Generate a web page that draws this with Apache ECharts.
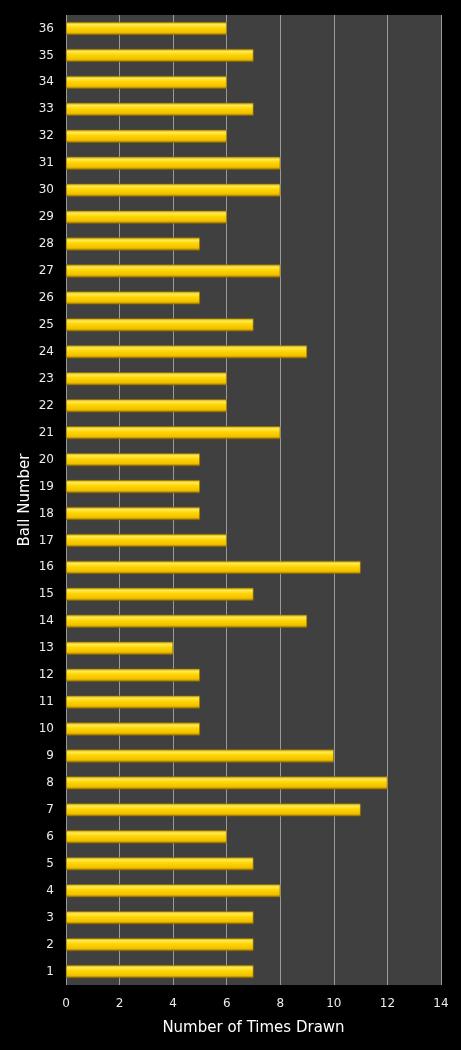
<!DOCTYPE html>
<html>
<head>
    <meta charset="utf-8">
    <title>ECharts</title>
    <script src="https://cdn.jsdelivr.net/npm/echarts@6/dist/echarts.min.js"></script>
    <style>
        html, body { margin: 0; padding: 0; background: #000; }
    </style>
</head>
<body>
<div id="main" style="width: 461px;height:1050px;"></div>
<script type="text/javascript">
    // ball numbers, bottom to top
    var balls = ['1','2','3','4','5','6','7','8','9','10','11','12','13','14','15','16','17','18',
                 '19','20','21','22','23','24','25','26','27','28','29','30','31','32','33','34','35','36'];
    // times drawn per ball
    var timesDrawn = [7,7,7,8,7,6,11,12,10,5,5,5,4,9,7,11,6,5,
                      5,5,8,6,6,9,7,5,8,5,6,8,8,6,7,6,7,6];
    var xTicks = { min: 0, max: 14, interval: 2 };

    var myChart = echarts.init(document.getElementById('main'));

    var barColor = new echarts.graphic.LinearGradient(0, 0, 0, 1, [
        { offset: 0, color: '#c79e00' },
        { offset: 0.2, color: '#ffea55' },
        { offset: 0.45, color: '#ffd500' },
        { offset: 0.8, color: '#f0c000' },
        { offset: 1, color: '#946c00' }
    ]);

    var option = {
        backgroundColor: '#000',
        textStyle: { fontFamily: 'DejaVu Sans' },
        grid: {
            left: 66, right: 20, top: 15, bottom: 65,
            show: true, backgroundColor: '#404040', borderWidth: 0
        },
        xAxis: {
            type: 'value',
            min: xTicks.min, max: xTicks.max, interval: xTicks.interval,
            name: 'Number of Times Drawn',
            nameLocation: 'middle',
            nameGap: 36,
            nameMoveOverlap: false,
            nameTextStyle: { color: '#fff', fontSize: 15 },
            axisLine: { show: false },
            axisTick: { show: false },
            axisLabel: { color: '#ececec', fontSize: 12, margin: 13 },
            splitLine: { show: true, showMinLine: true, showMaxLine: true, lineStyle: { color: '#9a9a9a', width: 1 } }
        },
        yAxis: {
            type: 'category',
            data: balls,
            name: 'Ball Number',
            nameLocation: 'middle',
            nameGap: 33,
            nameMoveOverlap: false,
            nameTextStyle: { color: '#fff', fontSize: 15 },
            axisLine: { show: false },
            axisTick: { show: false },
            axisLabel: { color: '#ececec', fontSize: 12, margin: 12 }
        },
        series: [{
            type: 'bar',
            data: timesDrawn,
            barWidth: 13,
            itemStyle: { color: barColor, borderColor: '#8a6a00', borderWidth: 0.6 },
            animation: false
        }]
    };

    myChart.setOption(option);
</script>
</body>
</html>
